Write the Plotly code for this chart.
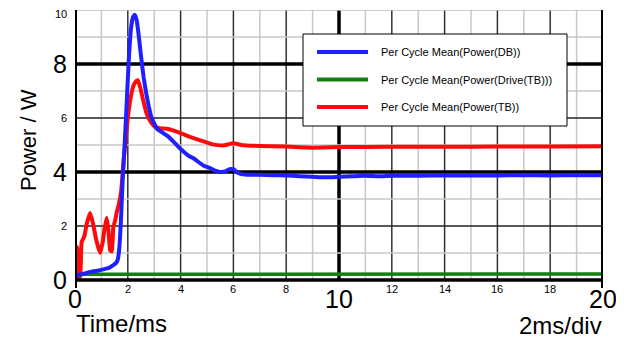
import plotly.graph_objects as go

# time axis in ms, power in W
t_db = [0, 0.05, 0.15, 0.3, 0.5, 0.7, 0.9, 1.1, 1.3, 1.45, 1.55, 1.62, 1.68, 1.74, 1.8, 1.88,
        1.96, 2.04, 2.12, 2.2, 2.27, 2.34, 2.42, 2.5, 2.6, 2.7, 2.8, 2.9, 3.0, 3.1, 3.25, 3.4,
        3.55, 3.7, 3.85, 4.0, 4.15, 4.3, 4.5, 4.7, 4.9, 5.1, 5.3, 5.5, 5.7, 5.85, 6.0, 6.15,
        6.3, 6.5, 7, 7.5, 8, 8.5, 9, 9.5, 10, 10.5, 11, 11.5, 12, 13, 14, 15, 16, 17, 18, 19, 20]
p_db = [0, 0.1, 0.2, 0.22, 0.28, 0.32, 0.35, 0.4, 0.45, 0.55, 0.62, 0.75, 1.2, 2.2, 3.6, 5.0,
        6.6, 8.2, 9.3, 9.75, 9.82, 9.6, 9.0, 8.3, 7.5, 6.9, 6.4, 6.0, 5.8, 5.6, 5.5, 5.4,
        5.3, 5.15, 5.0, 4.85, 4.72, 4.6, 4.5, 4.35, 4.22, 4.15, 4.05, 4.0, 4.02, 4.1, 4.1, 3.98,
        3.92, 3.9, 3.9, 3.88, 3.87, 3.84, 3.82, 3.8, 3.82, 3.84, 3.86, 3.84, 3.86, 3.86, 3.87,
        3.87, 3.87, 3.88, 3.87, 3.88, 3.88]

t_drive = [0, 0.15, 0.25, 1, 2, 4, 6, 8, 10, 12, 14, 16, 18, 20]
p_drive = [0, 0.05, 0.21, 0.21, 0.22, 0.21, 0.21, 0.21, 0.22, 0.21, 0.21, 0.22, 0.21, 0.22]

t_tb = [0, 0.02, 0.08, 0.12, 0.2, 0.25, 0.35, 0.45, 0.57, 0.68, 0.8, 0.95, 1.05, 1.12, 1.2,
        1.27, 1.33, 1.4, 1.45, 1.52, 1.58, 1.66, 1.75, 1.84, 1.92, 2.0, 2.1, 2.2, 2.3, 2.38,
        2.48, 2.58, 2.7, 2.84, 3.0, 3.2, 3.48, 3.98, 4.35, 4.8, 5.2, 5.6, 6.0, 6.3, 7, 8, 9,
        10, 12, 14, 16, 18, 20]
p_tb = [-0.25, 1.25, 1.2, 0.1, 0.2, 1.4, 1.6, 2.1, 2.48, 2.1, 1.5, 1.0, 1.4, 1.9, 2.3,
        1.8, 1.1, 1.05, 1.96, 2.2, 2.5, 2.8, 3.3, 4.4, 5.2, 6.0, 6.7, 7.15, 7.35, 7.4,
        7.1, 6.67, 6.2, 5.9, 5.7, 5.62, 5.6, 5.45, 5.3, 5.15, 5.02, 4.98, 5.06, 5.0, 4.96,
        4.94, 4.9, 4.92, 4.93, 4.93, 4.94, 4.94, 4.95]

names = ["Per Cycle Mean(Power(DB))", "Per Cycle Mean(Power(Drive(TB)))", "Per Cycle Mean(Power(TB))"]
colors = ["#1f1fff", "#108010", "#ff0a0a"]

x_big = [0, 10, 20]
x_small = [2, 4, 6, 8, 12, 14, 16, 18]
y_big = [0, 4, 8]
y_small = [2, 6, 10]

# page body has an 8px margin, so everything is laid out 8px up/left
L, T, W, H = 67, 2, 528, 278
FW, FH = 616, 331


def px(x):
    return (x - 8 - L) / W


def py(y):
    return (T + H - (y - 8)) / H


fig = go.Figure()
fig.add_trace(go.Scatter(x=t_drive, y=p_drive, mode="lines", line=dict(color=colors[1], width=3.5)))
fig.add_trace(go.Scatter(x=t_tb, y=p_tb, mode="lines", line=dict(color=colors[2], width=4, shape="spline", smoothing=0.3)))
fig.add_trace(go.Scatter(x=t_db, y=p_db, mode="lines", line=dict(color=colors[0], width=4, shape="spline", smoothing=0.4)))

shapes = []
# grid
for v in range(1, 20):
    if v == 10:
        c, w = "black", 3.5
    elif v % 2 == 0:
        c, w = "#333333", 1.5
    else:
        c, w = "#c8c8c8", 1.5
    shapes.append(dict(type="line", layer="below", x0=v, x1=v, y0=0, y1=10, line=dict(color=c, width=w)))
for v in range(1, 11):
    if v in (4, 8):
        c, w = "black", 3.5
    elif v == 10:
        c, w = "#bbbbbb", 1.5
    elif v % 2 == 0:
        c, w = "#222222", 1.5
    else:
        c, w = "#c8c8c8", 1.5
    shapes.append(dict(type="line", layer="below", x0=0, x1=20, y0=v, y1=v, line=dict(color=c, width=w)))
# frame
shapes.append(dict(type="line", x0=0, x1=20, y0=0, y1=0, line=dict(color="black", width=3.5)))
shapes.append(dict(type="line", x0=0, x1=0, y0=-0.3, y1=10, line=dict(color="black", width=4)))
shapes.append(dict(type="line", x0=20, x1=20, y0=-0.3, y1=10, line=dict(color="black", width=4)))

# legend box
shapes.append(dict(type="rect", xref="paper", yref="paper", x0=px(303), x1=px(567),
                   y0=py(126), y1=py(34), fillcolor="white", line=dict(color="black", width=1)))
annotations = []
for i, (n, c) in enumerate(zip(names, colors)):
    yp = py(52 + 27.5 * i)
    shapes.append(dict(type="line", xref="paper", yref="paper", x0=px(317), x1=px(368),
                       y0=yp, y1=yp, line=dict(color=c, width=4)))
    annotations.append(dict(xref="paper", yref="paper", x=px(379), y=yp, text=n, showarrow=False,
                            xanchor="left", yanchor="middle", font=dict(size=11, color="black")))

# tick labels
for v in x_big:
    annotations.append(dict(x=v, y=0, text=str(v), showarrow=False, yanchor="top", yshift=-3,
                            font=dict(size=25, color="black")))
for v in x_small:
    annotations.append(dict(x=v, y=0, text=str(v), showarrow=False, yanchor="top", yshift=-1,
                            font=dict(size=11, color="black")))
for v in y_big:
    annotations.append(dict(x=0, y=v, text=str(v), showarrow=False, xanchor="right", xshift=-6,
                            font=dict(size=25, color="black")))
for v in y_small:
    annotations.append(dict(x=0, y=v, text=str(v), showarrow=False, xanchor="right", xshift=-6,
                            yshift=-4 if v == 10 else 0, font=dict(size=11, color="black")))

annotations.append(dict(xref="paper", yref="paper", x=px(74), y=py(323), text="Time/ms", showarrow=False,
                        xanchor="left", yanchor="middle", font=dict(size=24, color="black")))
annotations.append(dict(xref="paper", yref="paper", x=px(604), y=py(325), text="2ms/div", showarrow=False,
                        xanchor="right", yanchor="middle", font=dict(size=24, color="black")))
annotations.append(dict(xref="paper", yref="paper", x=px(28), y=py(140), text="Power / W",
                        showarrow=False, textangle=-90, xanchor="center", yanchor="middle",
                        font=dict(size=22, color="black")))

fig.update_layout(
    width=FW, height=FH,
    margin=dict(l=L, r=FW - L - W, t=T, b=FH - T - H),
    paper_bgcolor="white", plot_bgcolor="white",
    showlegend=False,
    font=dict(family="Liberation Sans, Arial, sans-serif", color="black"),
    xaxis=dict(range=[0, 20], showgrid=False, zeroline=False, showticklabels=False, ticks=""),
    yaxis=dict(range=[-0.3, 10], showgrid=False, zeroline=False, showticklabels=False, ticks=""),
    shapes=shapes, annotations=annotations,
)

fig.write_html("out.html")
